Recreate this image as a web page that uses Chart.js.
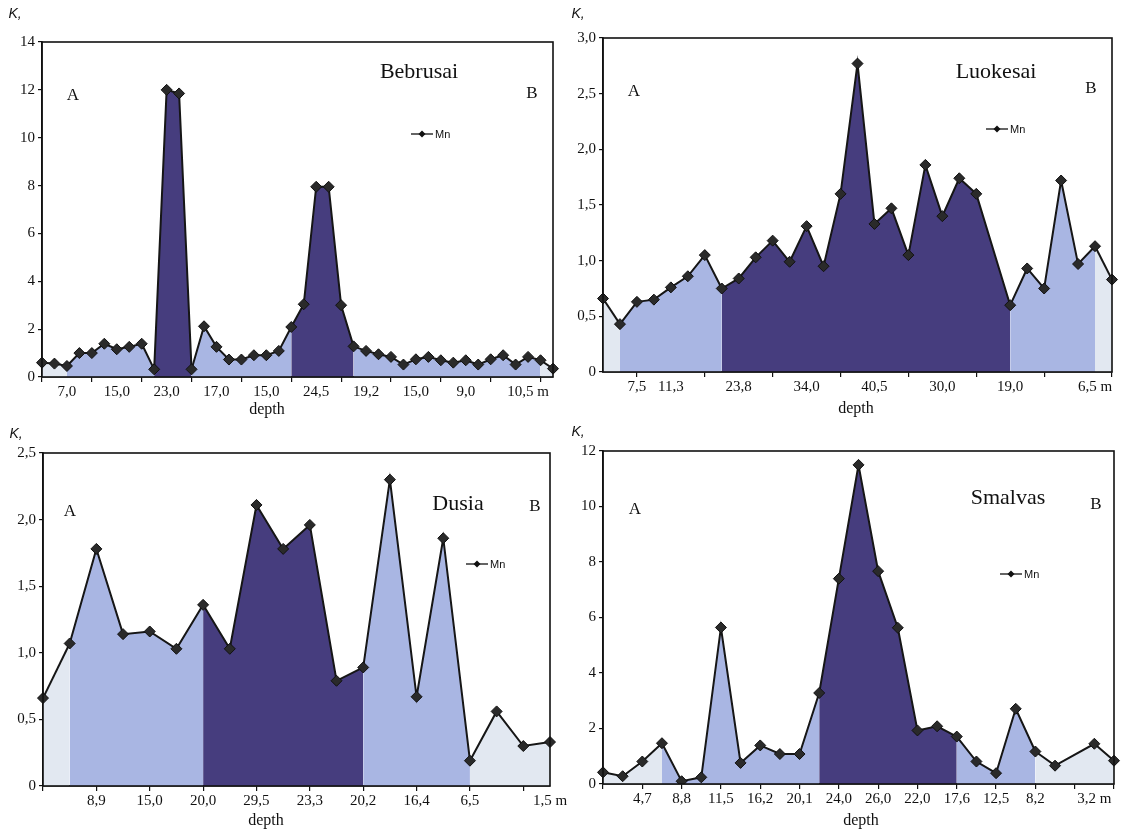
<!DOCTYPE html>
<html lang="en">
<head>
<meta charset="UTF-8">
<title>Mn along the A-B profile</title>
<script src="https://cdn.jsdelivr.net/npm/chart.js"></script>
<style>
  html, body { margin: 0; padding: 0; background: #fff; }
  #wrap { position: relative; width: 1129px; height: 835px; }
  #wrap canvas { position: absolute; left: 0; top: 0; }
</style>
</head>
<body>
<div id="wrap">
  <canvas id="bebrusai" width="1129" height="835"></canvas>
  <canvas id="luokesai" width="1129" height="835"></canvas>
  <canvas id="dusia" width="1129" height="835"></canvas>
  <canvas id="smalvas" width="1129" height="835"></canvas>
</div>
<script>
// Mn values, from A to B
const bebrusaiMn = [0.60, 0.56, 0.46, 1.00, 1.00, 1.39, 1.16, 1.26, 1.39, 0.32, 12.0, 11.85, 0.32, 2.12,
  1.26, 0.73, 0.73, 0.91, 0.91, 1.09, 2.09, 3.04, 7.95, 7.95, 3.0, 1.28, 1.09, 0.95, 0.84, 0.52,
  0.74, 0.84, 0.70, 0.60, 0.70, 0.52, 0.74, 0.91, 0.52, 0.84, 0.70, 0.35];
const luokesaiMn = [0.66, 0.43, 0.63, 0.65, 0.76, 0.86, 1.05, 0.75, 0.84, 1.03, 1.18, 0.99, 1.31, 0.95,
  1.60, 2.77, 1.33, 1.47, 1.05, 1.86, 1.40, 1.74, 1.60, null, 0.60, 0.93, 0.75, 1.72, 0.97, 1.13, 0.83];
const dusiaMn = [0.66, 1.07, 1.78, 1.14, 1.16, 1.03, 1.36, 1.03, 2.11, 1.78, 1.96, 0.79, 0.89, 2.30,
  0.67, 1.86, 0.19, 0.56, 0.30, 0.33];
const smalvasMn = [0.42, 0.28, 0.81, 1.47, 0.10, 0.24, 5.64, 0.76, 1.39, 1.08, 1.08, 3.28, 7.40, 11.5,
  7.67, 5.63, 1.93, 2.08, 1.71, 0.81, 0.39, 2.71, 1.17, 0.66, null, 1.45, 0.84];

// depth tick labels and the sample index each one sits under
const bebrusaiDepth = ['7,0', '15,0', '23,0', '17,0', '15,0', '24,5', '19,2', '15,0', '9,0', '10,5 m'];
const bebrusaiDepthAt = [2, 6, 10, 14, 18, 22, 26, 30, 34, 39];
const luokesaiDepth = ['7,5', '11,3', '23,8', '34,0', '40,5', '30,0', '19,0', '6,5 m'];
const luokesaiDepthAt = [2, 4, 8, 12, 16, 20, 24, 29];
const dusiaDepth = ['8,9', '15,0', '20,0', '29,5', '23,3', '20,2', '16,4', '6,5', '1,5 m'];
const dusiaDepthAt = [2, 4, 6, 8, 10, 12, 14, 16, 19];
const smalvasDepth = ['4,7', '8,8', '11,5', '16,2', '20,1', '24,0', '26,0', '22,0', '17,6', '12,5', '8,2', '3,2 m'];
const smalvasDepthAt = [2, 4, 6, 8, 10, 12, 14, 16, 18, 20, 22, 25];

// shading zones: [first sample index, zone]
const bebrusaiZones = [[0, 'pale'], [2, 'light'], [9, 'dark'], [12, 'light'], [20, 'dark'], [25, 'light'], [40, 'pale']];
const luokesaiZones = [[0, 'pale'], [1, 'light'], [7, 'dark'], [24, 'light'], [29, 'pale']];
const dusiaZones = [[0, 'pale'], [1, 'light'], [6, 'dark'], [12, 'light'], [16, 'pale']];
const smalvasZones = [[0, 'pale'], [3, 'light'], [11, 'dark'], [18, 'light'], [22, 'pale']];

const zoneColors = { pale: '#e2e8f1', light: '#a9b6e3', dark: '#463d7e' };

function zoneOf(zones, i) {
  let z = zones[0][1];
  zones.forEach(([start, name]) => { if (i >= start) z = name; });
  return z;
}

const serif = 'Liberation Serif';
const sans = 'Liberation Sans';

function decor(p) {
  return {
    id: 'decor',
    afterDraw(chart) {
      const ctx = chart.ctx, a = chart.chartArea;
      ctx.save();
      ctx.strokeStyle = '#111';
      ctx.lineWidth = 1.6;
      ctx.strokeRect(a.left, a.top, a.right - a.left, a.bottom - a.top);

      ctx.fillStyle = '#111';
      ctx.textAlign = 'center';
      ctx.textBaseline = 'middle';
      ctx.font = '22px "' + serif + '"';
      ctx.fillText(p.name, p.title[0], p.title[1]);
      ctx.font = '17px "' + serif + '"';
      ctx.fillText('A', p.a[0], p.a[1]);
      ctx.fillText('B', p.b[0], p.b[1]);
      ctx.font = '16px "' + serif + '"';
      ctx.fillText('depth', p.depth[0], p.depth[1]);
      ctx.font = 'italic 14px "' + sans + '"';
      ctx.fillText('K,', p.k[0], p.k[1]);

      // legend
      const [lx, ly] = p.legend;
      ctx.lineWidth = 1.3;
      ctx.beginPath();
      ctx.moveTo(lx, ly);
      ctx.lineTo(lx + 22, ly);
      ctx.stroke();
      ctx.beginPath();
      ctx.moveTo(lx + 11, ly - 3.5);
      ctx.lineTo(lx + 14.5, ly);
      ctx.lineTo(lx + 11, ly + 3.5);
      ctx.lineTo(lx + 7.5, ly);
      ctx.closePath();
      ctx.fill();
      ctx.textAlign = 'left';
      ctx.font = '11px "' + sans + '"';
      ctx.fillText('Mn', lx + 24, ly + 0.5);
      ctx.restore();
    }
  };
}

function panel(id, p) {
  const labels = p.values.map(() => '');
  p.tickAt.forEach((i, k) => { labels[i] = p.ticks[k]; });

  new Chart(document.getElementById(id), {
    type: 'line',
    data: {
      labels: labels,
      datasets: [{
        label: 'Mn',
        data: p.values,
        spanGaps: true,
        fill: 'origin',
        tension: 0,
        borderColor: '#161616',
        borderWidth: 2,
        backgroundColor: zoneColors.light,
        segment: { backgroundColor: c => zoneColors[zoneOf(p.zones, c.p0DataIndex)] },
        pointStyle: 'rectRot',
        pointRadius: 5.5,
        pointBackgroundColor: '#2a2a2a',
        pointBorderColor: '#111',
        pointBorderWidth: 1
      }]
    },
    options: {
      responsive: false,
      animation: false,
      devicePixelRatio: 1,
      layout: {
        padding: {
          left: p.area[0] - 40,
          top: p.area[1],
          right: 1129 - p.area[2],
          bottom: 835 - p.area[3] - 30
        }
      },
      plugins: { legend: { display: false }, tooltip: { enabled: false } },
      scales: {
        x: {
          type: 'category',
          offset: false,
          grid: {
            drawOnChartArea: false,
            tickLength: 5,
            lineWidth: 1.2,
            color: c => (c.index % p.markEvery === p.markFrom % p.markEvery) ? '#111' : 'rgba(0,0,0,0)'
          },
          border: { display: true, color: '#111', width: 1.6 },
          ticks: {
            autoSkip: false, maxRotation: 0, minRotation: 0, padding: 1,
            color: '#111', font: { family: serif, size: 15 }
          },
          afterFit: s => { s.height = 30; }
        },
        y: {
          min: 0,
          max: p.max,
          grid: { drawOnChartArea: false, tickLength: 4, lineWidth: 1.2, color: '#111' },
          border: { display: true, color: '#111', width: 1.6 },
          ticks: {
            stepSize: p.step, padding: 3, color: '#111',
            font: { family: serif, size: 15 },
            callback: v => (v === 0 || p.step >= 1) ? String(v) : v.toFixed(1).replace('.', ',')
          },
          afterFit: s => { s.width = 40; }
        }
      }
    },
    plugins: [decor(p)]
  });
}

panel('bebrusai', {
  name: 'Bebrusai', values: bebrusaiMn, ticks: bebrusaiDepth, tickAt: bebrusaiDepthAt, zones: bebrusaiZones,
  max: 14, step: 2, markEvery: 4, markFrom: 0,
  area: [42, 42, 553, 377],
  title: [419, 72], a: [73, 96], b: [532, 94], depth: [267, 410], k: [15, 14], legend: [411, 134]
});
panel('luokesai', {
  name: 'Luokesai', values: luokesaiMn, ticks: luokesaiDepth, tickAt: luokesaiDepthAt, zones: luokesaiZones,
  max: 3, step: 0.5, markEvery: 4, markFrom: 2,
  area: [603, 38, 1112, 372],
  title: [996, 72], a: [634, 92], b: [1091, 89], depth: [856, 409], k: [578, 14], legend: [986, 129]
});
panel('dusia', {
  name: 'Dusia', values: dusiaMn, ticks: dusiaDepth, tickAt: dusiaDepthAt, zones: dusiaZones,
  max: 2.5, step: 0.5, markEvery: 2, markFrom: 0,
  area: [43, 453, 550, 786],
  title: [458, 504], a: [70, 512], b: [535, 507], depth: [266, 821], k: [16, 434], legend: [466, 564]
});
panel('smalvas', {
  name: 'Smalvas', values: smalvasMn, ticks: smalvasDepth, tickAt: smalvasDepthAt, zones: smalvasZones,
  max: 12, step: 2, markEvery: 2, markFrom: 0,
  area: [603, 451, 1114, 784],
  title: [1008, 498], a: [635, 510], b: [1096, 505], depth: [861, 821], k: [578, 432], legend: [1000, 574]
});
</script>
</body>
</html>
